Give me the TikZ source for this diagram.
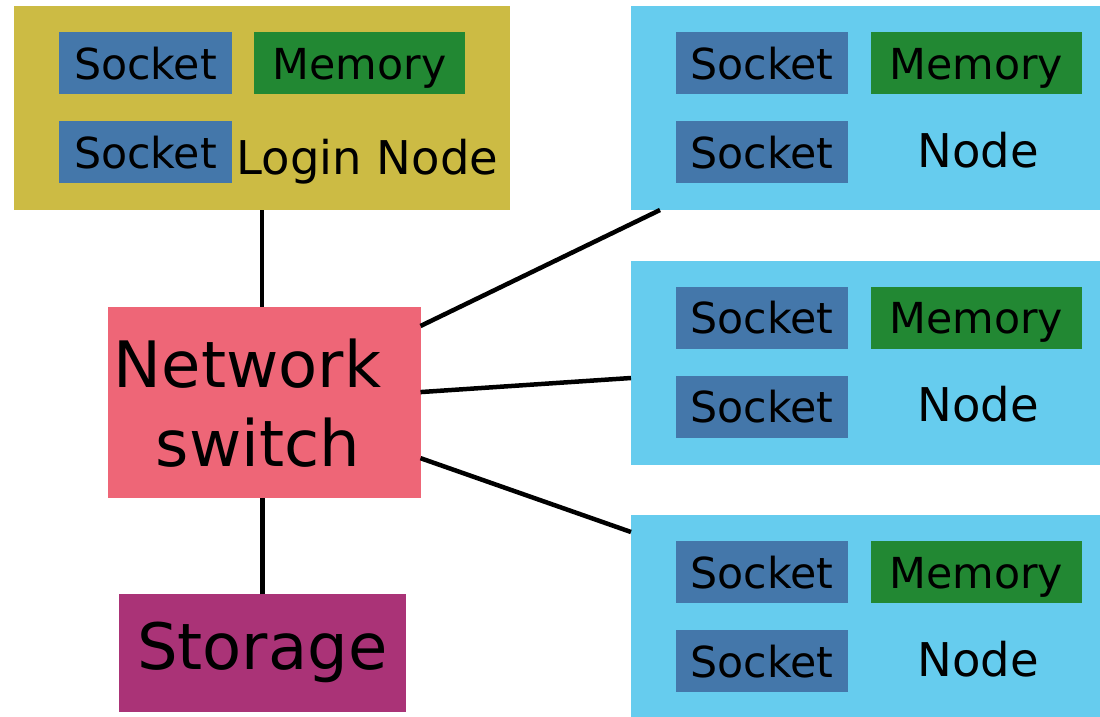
\documentclass[tikz,border=0pt]{standalone}
\usepackage{fontspec}
\setmainfont{DejaVu Sans}
\usetikzlibrary{calc}

\definecolor{tolblue}{HTML}{4477AA}
\definecolor{tolcyan}{HTML}{66CCEE}
\definecolor{tolgreen}{HTML}{228833}
\definecolor{tolyellow}{HTML}{CCBB44}
\definecolor{tolred}{HTML}{EE6677}
\definecolor{tolpurple}{HTML}{AA3377}

% One compute node: #1 = name prefix, #2 = top edge
\newcommand\computenode[2]{%
  \node[box, fill=tolcyan, minimum width=469pt, minimum height=204pt] (#1) at (631,{#2}) {};
  \node[part, fill=tolblue, minimum width=172pt] (#1s1) at (676,{#2+26}) {Socket};
  \node[part, fill=tolblue, minimum width=172pt] (#1s2) at (676,{#2+115}) {Socket};
  \node[part, fill=tolgreen, minimum width=210.7pt] (#1m) at (871,{#2+26}) {Memory};
  \node[label text] (#1t) at (917.4,{#2+161}) {Node};
}

\begin{document}
\begin{tikzpicture}[x=1pt, y=-1pt,
  box/.style={draw=none, inner sep=0pt, outer sep=0pt, anchor=north west},
  part/.style={box, minimum height=62pt, text height=32pt, text depth=0pt,
    font=\fontsize{42.7}{50}\selectfont},
  label text/.style={inner sep=0pt, anchor=base west, font=\fontsize{46.5}{56}\selectfont},
  big text/.style={inner sep=0pt, anchor=base west, font=\fontsize{64}{76}\selectfont},
  link/.style={line width=4.5pt, black}]
\useasboundingbox (0,0) rectangle (1100,717);

% login node
\node[box, fill=tolyellow, minimum width=496pt, minimum height=204pt] (login) at (14,6) {};
\node[part, fill=tolblue, minimum width=172.4pt] (ls1) at (59.3,32) {Socket};
\node[part, fill=tolblue, minimum width=172.4pt] (ls2) at (59.3,121) {Socket};
\node[part, fill=tolgreen, minimum width=210.7pt] (lm) at (254.3,32) {Memory};
\node[label text] (lt) at (236.4,174) {Login Node};

% network switch
\node[box, fill=tolred, minimum width=313pt, minimum height=191pt] (switch) at (107.5,306.7) {};
\node[big text] (sw1) at (113.7,387.7) {Network};
\node[big text] (sw2) at (155.5,466.7) {switch};

% storage
\node[box, fill=tolpurple, minimum width=286.5pt, minimum height=117.4pt,
  text height=32pt, text depth=0pt, font=\fontsize{64}{76}\selectfont] (storage) at (119,594.3) {Storage};

% compute nodes
\computenode{ca}{6}
\computenode{cb}{260.5}
\computenode{cc}{515}

% cables
\draw[link] (login.south) -- (login.south |- switch.north);
\draw[link] (storage.north) -- (storage.north |- switch.south);
\draw[link] ($(switch.north east)!0.101!(switch.south east)$) -- ($(ca.south west)+(29,0)$);
\draw[link] ($(switch.north east)!0.447!(switch.south east)$) -- ($(cb.west)+(0,15.5)$);
\draw[link] ($(switch.north east)!0.793!(switch.south east)$) -- ($(cc.north west)+(0,17)$);
\end{tikzpicture}
\end{document}
